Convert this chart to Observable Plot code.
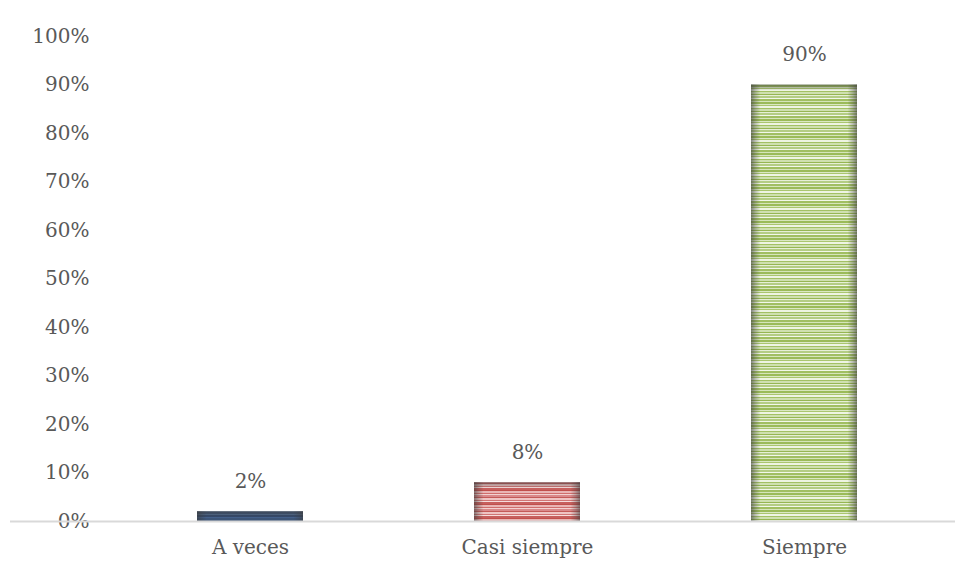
<!DOCTYPE html>
<html>
<head>
<meta charset="utf-8">
<script src="https://cdn.jsdelivr.net/npm/d3@7"></script>
<script src="https://cdn.jsdelivr.net/npm/@observablehq/plot@0.6"></script>
<style>
  html, body { margin: 0; padding: 0; background: #ffffff; }
  #chart { width: 961px; height: 563px; }
</style>
</head>
<body>
<div id="chart"></div>
<script>
const categories = ["A veces", "Casi siempre", "Siempre"];
const values = [0.02, 0.08, 0.90];
const valueLabels = ["2%", "8%", "90%"];
const patternIds = ["stripe-blue", "stripe-red", "stripe-green"];
const yTicks = [0, 0.1, 0.2, 0.3, 0.4, 0.5, 0.6, 0.7, 0.8, 0.9, 1.0];

const data = categories.map((c, i) => ({category: c, value: values[i], label: valueLabels[i], fill: `url(#${patternIds[i]})`}));

const textColor = "#595959";
const font = "'DejaVu Serif', serif";

const chart = Plot.plot({
  width: 961,
  height: 563,
  marginLeft: 112,
  marginRight: 18,
  marginTop: 36,
  marginBottom: 42,
  style: {fontFamily: font, fontSize: "20px", color: textColor, background: "#ffffff"},
  x: {domain: categories, paddingInner: 0.617, paddingOuter: 0.3085, label: null, tickSize: 0, tickPadding: 18},
  y: {domain: [0, 1], ticks: yTicks, tickFormat: d3.format(".0%"), label: null, tickSize: 0, tickPadding: 23},
  marks: [
    Plot.barY(data, {x: "category", y: "value", fill: "fill"}),
    Plot.barY(data, {x: "category", y: "value", fill: () => "url(#edge-shade)"}),
    Plot.barY(data, {x: "category", y: "value", fill: () => "url(#top-shade)"}),
    Plot.ruleY([0], {stroke: "#d9d9d9", strokeWidth: 2, insetLeft: -102, insetRight: -12}),
    Plot.text(data, {x: "category", y: "value", text: "label", dy: -30, fill: textColor, fontSize: 20})
  ]
});

document.getElementById("chart").appendChild(chart);

// pattern & gradient definitions for the striped bar fills
const svg = d3.select(chart);
const defs = svg.insert("defs", ":first-child");

function stripes(id, base, rows) {
  const h = rows.reduce((s, r) => s + r[1], 0);
  const p = defs.append("pattern").attr("id", id).attr("patternUnits", "userSpaceOnUse")
    .attr("width", 8).attr("height", h);
  p.append("rect").attr("width", 8).attr("height", h).attr("fill", base);
  let yy = 0;
  for (const [color, hh] of rows) {
    p.append("rect").attr("y", yy).attr("width", 8).attr("height", hh).attr("fill", color);
    yy += hh;
  }
}
stripes("stripe-blue", "#3d5578", [["#3a5276", 2], ["#4f6a8e", 1], ["#34496b", 2], ["#44608a", 1], ["#3d5578", 2]]);
stripes("stripe-red", "#e4a5a4", [["#c0504d", 1], ["#e9b5b4", 2], ["#cf6e6c", 1], ["#f3d2d1", 1], ["#d9898a", 2], ["#c45a58", 1], ["#efc4c3", 2], ["#d07675", 1], ["#f6dcdb", 1], ["#c75f5d", 2]]);
stripes("stripe-green", "#c3d79d", [["#9bbb59", 2], ["#dbe8c4", 1], ["#aac66f", 1], ["#eef4e3", 2], ["#a3c164", 1], ["#cfe0b0", 2], ["#96b653", 1], ["#e6efd6", 1], ["#b4cd84", 2], ["#f2f7ea", 1], ["#a1bf62", 2], ["#d6e5bb", 1]]);

const g = defs.append("linearGradient").attr("id", "edge-shade").attr("x1", 0).attr("x2", 1).attr("y1", 0).attr("y2", 0);
[[0, 0.6], [0.04, 0.3], [0.09, 0], [0.91, 0], [0.96, 0.3], [1, 0.6]].forEach(([o, a]) =>
  g.append("stop").attr("offset", o).attr("stop-color", "#3a3a3a").attr("stop-opacity", a));

const tg = defs.append("linearGradient").attr("id", "top-shade").attr("gradientUnits", "userSpaceOnUse")
  .attr("x1", 0).attr("x2", 0).attr("y1", 0).attr("y2", 1);
// top shading handled per bar below
svg.selectAll("text").attr("fill", textColor);

// per-bar top shading: a small gradient fixed to each bar's own top edge
svg.selectAll("g[aria-label='bar']").filter((d, i) => i === 2).selectAll("rect").each(function() {
  const r = d3.select(this);
  const y0 = +r.attr("y");
  const id = "top-shade-" + Math.round(y0);
  const gr = defs.append("linearGradient").attr("id", id).attr("gradientUnits", "userSpaceOnUse")
    .attr("x1", 0).attr("x2", 0).attr("y1", y0).attr("y2", y0 + 6);
  gr.append("stop").attr("offset", 0).attr("stop-color", "#444").attr("stop-opacity", 0.55);
  gr.append("stop").attr("offset", 1).attr("stop-color", "#444").attr("stop-opacity", 0);
  r.attr("fill", `url(#${id})`);
});
</script>
</body>
</html>
